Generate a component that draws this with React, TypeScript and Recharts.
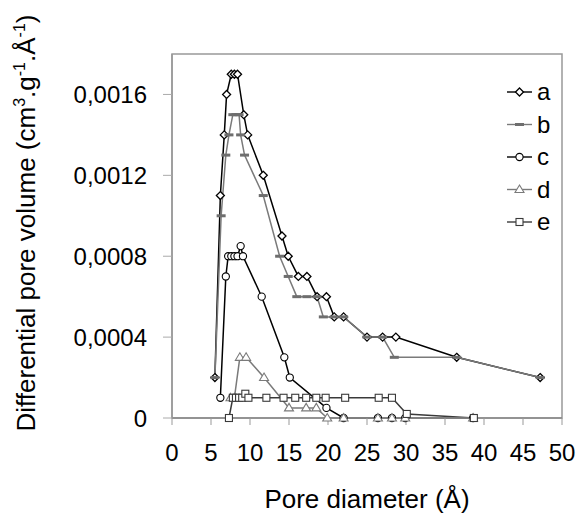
import React from "react";
import { LineChart, Line, XAxis, YAxis, Legend, ReferenceArea } from "recharts";

const xTicks = [0, 5, 10, 15, 20, 25, 30, 35, 40, 45, 50];
const yTicks = [0, 0.0004, 0.0008, 0.0012, 0.0016];

const aX = [5.5, 6.2, 6.7, 7.0, 7.6, 8.0, 8.4, 9.2, 9.7, 11.7, 14.1, 14.9, 16.2, 17.3, 18.6, 19.8, 20.8, 22.0, 25.0, 27.0, 28.7, 36.5, 47.2];
const aY = [0.0002, 0.0011, 0.0014, 0.0016, 0.0017, 0.0017, 0.0017, 0.0015, 0.0014, 0.0012, 0.0009, 0.0008, 0.0007, 0.0007, 0.0006, 0.0006, 0.0005, 0.0005, 0.0004, 0.0004, 0.0004, 0.0003, 0.0002];

const bX = [5.5, 6.3, 6.9, 7.3, 7.8, 8.2, 8.6, 8.8, 9.3, 11.7, 13.8, 14.9, 16.0, 17.3, 18.6, 19.4, 20.8, 22.0, 25.0, 27.0, 28.5, 36.5, 47.2];
const bY = [0.0002, 0.001, 0.0013, 0.0014, 0.0015, 0.0015, 0.0015, 0.0014, 0.0013, 0.0011, 0.0008, 0.0007, 0.0006, 0.0006, 0.0006, 0.0005, 0.0005, 0.0005, 0.0004, 0.0004, 0.0003, 0.0003, 0.0002];

const cX = [6.2, 6.9, 7.2, 7.6, 8.0, 8.4, 8.8, 9.1, 11.5, 14.4, 15.1, 19.8, 22.0, 26.4, 28.2, 29.9, 38.6];
const cY = [0.0001, 0.0007, 0.0008, 0.0008, 0.0008, 0.0008, 0.00085, 0.0008, 0.0006, 0.0003, 0.0002, 0.00005, 0, 0, 0, 0, 0];

const dX = [7.5, 8.0, 8.7, 9.5, 11.8, 15.0, 17.2, 18.5, 19.9, 22.0, 26.4, 28.2, 29.9, 38.6];
const dY = [0.0001, 0.0001, 0.0003, 0.0003, 0.0002, 0.00005, 0.00005, 0.00005, 0, 0, 0, 0, 0, 0];

const eX = [7.3, 7.8, 8.2, 8.6, 9.0, 9.4, 9.8, 12.1, 14.3, 15.8, 17.2, 18.5, 19.7, 22.2, 26.5, 28.2, 30.1, 38.7];
const eY = [0, 0.0001, 0.0001, 0.0001, 0.0001, 0.00012, 0.0001, 0.0001, 0.0001, 0.0001, 0.0001, 0.0001, 0.0001, 0.0001, 0.0001, 0.0001, 0.00002, 0];

const seriesNames = ["a", "b", "c", "d", "e"];

const toRows = (xs: number[], ys: number[]) => xs.map((x, i) => ({ x, y: ys[i] }));

const FONT = "'Liberation Sans', Arial, sans-serif";
const GREY = "#7a7a7a";
const DARK = "#3a3a3a";

function marker(kind: string, cx: number, cy: number, key?: string | number) {
  switch (kind) {
    case "a":
      return <path key={key} d={`M${cx},${cy - 4}L${cx + 4},${cy}L${cx},${cy + 4}L${cx - 4},${cy}Z`} fill="#fff" stroke="#000" strokeWidth={1.3} />;
    case "b":
      return <rect key={key} x={cx - 4.5} y={cy - 1.5} width={9} height={3} fill="#6e6e6e" />;
    case "c":
      return <circle key={key} cx={cx} cy={cy} r={3.6} fill="#fff" stroke="#000" strokeWidth={1.1} />;
    case "d":
      return <path key={key} d={`M${cx},${cy - 4.5}L${cx + 4.5},${cy + 3}L${cx - 4.5},${cy + 3}Z`} fill="#fff" stroke={GREY} strokeWidth={1.1} />;
    default:
      return <rect key={key} x={cx - 3.5} y={cy - 3.5} width={7} height={7} fill="#fff" stroke={DARK} strokeWidth={1.1} />;
  }
}

const lineColor: Record<string, string> = { a: "#000", b: GREY, c: "#000", d: GREY, e: DARK };

const dotFor = (kind: string) => (p: any) => marker(kind, p.cx, p.cy, `${kind}-${p.index}`);

const yFmt = (v: number) => (v === 0 ? "0" : v.toFixed(4).replace(".", ","));

function LegendBox() {
  return (
    <svg width={70} height={170} style={{ display: "block" }}>
      {seriesNames.map((s, i) => {
        const y = 16 + i * 32.5;
        return (
          <g key={s}>
            <line x1={0} x2={25} y1={y} y2={y} stroke={lineColor[s]} strokeWidth={1.4} />
            {marker(s, 12.5, y)}
            <text x={30} y={y + 8} fontSize={24} fontFamily={FONT} fill="#000">{s}</text>
          </g>
        );
      })}
    </svg>
  );
}

function YTitle(props: any) {
  const x = 35;
  const y = 223;
  return (
    <text x={x} y={y} transform={`rotate(-90, ${x}, ${y})`} textAnchor="middle" fontSize={26} fontFamily={FONT} fill="#000">
      Differential pore volume (cm
      <tspan dy={-10} fontSize={16}>3</tspan>
      <tspan dy={10}>.g</tspan>
      <tspan dy={-10} fontSize={16}>-1</tspan>
      <tspan dy={10}>.Å</tspan>
      <tspan dy={-10} fontSize={16}>-1</tspan>
      <tspan dy={10}>)</tspan>
    </text>
  );
}

function XTitle(props: any) {
  const vb = props.viewBox || { x: 172, y: 418, width: 390 };
  return (
    <text x={vb.x + vb.width / 2} y={vb.y + 90} textAnchor="middle" fontSize={26} fontFamily={FONT} fill="#000">
      Pore diameter (Å)
    </text>
  );
}

export default function App() {
  const data = { a: toRows(aX, aY), b: toRows(bX, bY), c: toRows(cX, cY), d: toRows(dX, dY), e: toRows(eX, eY) } as Record<string, { x: number; y: number }[]>;
  return (
    <div style={{ position: "absolute", left: 0, top: 0, width: 576, height: 513, background: "#fff", fontFamily: FONT }}>
      <LineChart width={576} height={513} margin={{ top: 54, right: 14, bottom: 0, left: 0 }}>
        <XAxis
          type="number"
          dataKey="x"
          domain={[0, 50]}
          ticks={xTicks}
          interval={0}
          allowDuplicatedCategory={false}
          height={95}
          tickSize={7}
          tickMargin={19}
          axisLine={{ stroke: "#888", strokeWidth: 1.5 }}
          tickLine={{ stroke: "#999" }}
          tick={{ fill: "#000", fontSize: 24, fontFamily: FONT }}
          label={{ content: <XTitle /> }}
        />
        <YAxis
          type="number"
          dataKey="y"
          domain={[0, 0.0018]}
          ticks={yTicks}
          interval={0}
          width={172}
          tickSize={9}
          tickMargin={16}
          tickFormatter={yFmt}
          axisLine={{ stroke: "#999", strokeWidth: 1.5 }}
          tickLine={{ stroke: "#aaa" }}
          tick={{ fill: "#000", fontSize: 24, fontFamily: FONT }}
          label={{ content: <YTitle /> }}
        />
        <ReferenceArea x1={0} x2={50} y1={0} y2={0.0018} fill="none" stroke="#999" strokeWidth={1.5} ifOverflow="extendDomain" />
        {seriesNames.map((s) => (
          <Line
            key={s}
            data={data[s]}
            dataKey="y"
            name={s}
            type="linear"
            stroke={lineColor[s]}
            strokeWidth={1.5}
            dot={dotFor(s)}
            activeDot={false}
            isAnimationActive={false}
          />
        ))}
        <Legend
          layout="vertical"
          align="center"
          verticalAlign="middle"
          wrapperStyle={{ left: 507, top: 76, width: 70 }}
          content={() => <LegendBox />}
        />
      </LineChart>
    </div>
  );
}
